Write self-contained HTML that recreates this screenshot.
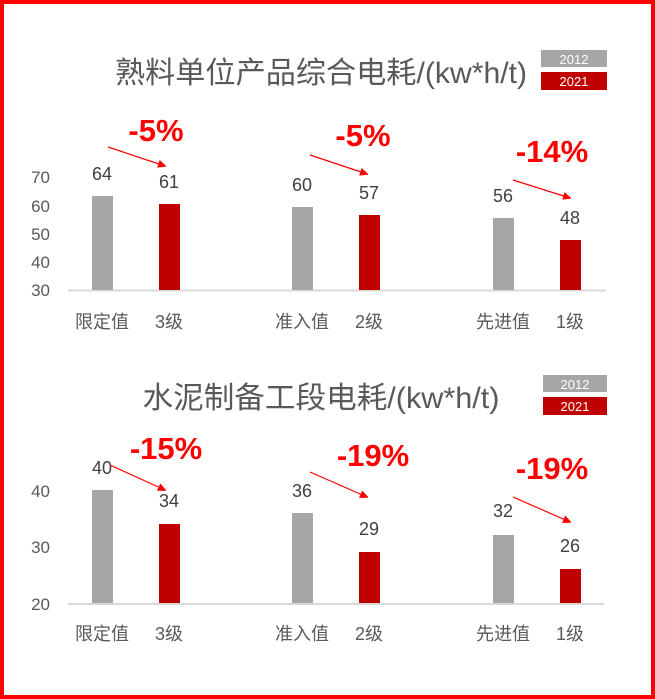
<!DOCTYPE html>
<html><head><meta charset="utf-8"><style>
html,body{margin:0;padding:0;background:#fff}
svg{display:block}
text{font-family:"Liberation Sans","Noto Sans CJK SC",sans-serif}
</style></head><body>
<svg width="655" height="699" viewBox="0 0 655 699">
<defs><marker id="ah" markerWidth="8" markerHeight="8" refX="7" refY="4" orient="auto" markerUnits="userSpaceOnUse"><path d="M0,0 L9,4 L0,8 z" fill="#ff0000"/></marker></defs>
<rect x="2" y="2" width="651" height="695" fill="#fff" stroke="#ff0000" stroke-width="4"/>
<!-- chart 1 -->
<text x="321" y="83" text-anchor="middle" font-size="30" fill="#595959" textLength="412" lengthAdjust="spacingAndGlyphs">熟料单位产品综合电耗/(kw*h/t)</text>
<rect x="541" y="50" width="66" height="17" fill="#a6a6a6"/><text x="574" y="64" text-anchor="middle" font-size="13" fill="#fff">2012</text>
<rect x="541" y="72" width="66" height="18" fill="#c00000"/><text x="574" y="86" text-anchor="middle" font-size="13" fill="#fff">2021</text>
<g font-size="17" fill="#595959" text-anchor="end">
<text x="50" y="183">70</text><text x="50" y="212">60</text><text x="50" y="240">50</text><text x="50" y="268">40</text><text x="50" y="296">30</text></g>
<line x1="68" y1="290.5" x2="606" y2="290.5" stroke="#d9d9d9" stroke-width="2"/>
<rect x="92" y="196" width="21" height="94" fill="#a6a6a6"/>
<rect x="159" y="204" width="21" height="86" fill="#c00000"/>
<rect x="292" y="207" width="21" height="83" fill="#a6a6a6"/>
<rect x="359" y="215" width="21" height="75" fill="#c00000"/>
<rect x="493" y="218" width="21" height="72" fill="#a6a6a6"/>
<rect x="560" y="240" width="21" height="50" fill="#c00000"/>
<g font-size="18" fill="#404040" text-anchor="middle">
<text x="102" y="180">64</text><text x="169" y="188">61</text><text x="302" y="191">60</text><text x="369" y="199">57</text><text x="503" y="202">56</text><text x="570" y="224">48</text></g>
<g font-size="18" fill="#595959" text-anchor="middle">
<text x="102" y="328">限定值</text><text x="169" y="328">3级</text><text x="302" y="328">准入值</text><text x="369" y="328">2级</text><text x="503" y="328">先进值</text><text x="570" y="328">1级</text></g>
<g font-size="31" font-weight="bold" fill="#ff0000" text-anchor="middle">
<text x="156" y="141">-5%</text><text x="363" y="146">-5%</text><text x="552" y="162">-14%</text></g>
<g stroke="#ff0000" stroke-width="1.2" marker-end="url(#ah)">
<line x1="108" y1="147" x2="165" y2="166"/><line x1="310" y1="155" x2="367" y2="174"/><line x1="513" y1="180" x2="570" y2="198"/></g>
<!-- chart 2 -->
<text x="321" y="408" text-anchor="middle" font-size="30" fill="#595959" textLength="357" lengthAdjust="spacingAndGlyphs">水泥制备工段电耗/(kw*h/t)</text>
<rect x="543" y="375" width="64" height="17" fill="#a6a6a6"/><text x="575" y="389" text-anchor="middle" font-size="13" fill="#fff">2012</text>
<rect x="543" y="397" width="64" height="18" fill="#c00000"/><text x="575" y="411" text-anchor="middle" font-size="13" fill="#fff">2021</text>
<g font-size="17" fill="#595959" text-anchor="end">
<text x="50" y="497">40</text><text x="50" y="553">30</text><text x="50" y="610">20</text></g>
<line x1="68" y1="604" x2="604" y2="604" stroke="#d9d9d9" stroke-width="2"/>
<rect x="92" y="490" width="21" height="113" fill="#a6a6a6"/>
<rect x="159" y="524" width="21" height="79" fill="#c00000"/>
<rect x="292" y="513" width="21" height="90" fill="#a6a6a6"/>
<rect x="359" y="552" width="21" height="51" fill="#c00000"/>
<rect x="493" y="535" width="21" height="68" fill="#a6a6a6"/>
<rect x="560" y="569" width="21" height="34" fill="#c00000"/>
<g font-size="18" fill="#404040" text-anchor="middle">
<text x="102" y="474">40</text><text x="169" y="507">34</text><text x="302" y="497">36</text><text x="369" y="535">29</text><text x="503" y="517">32</text><text x="570" y="552">26</text></g>
<g font-size="18" fill="#595959" text-anchor="middle">
<text x="102" y="640">限定值</text><text x="169" y="640">3级</text><text x="302" y="640">准入值</text><text x="369" y="640">2级</text><text x="503" y="640">先进值</text><text x="570" y="640">1级</text></g>
<g font-size="31" font-weight="bold" fill="#ff0000" text-anchor="middle">
<text x="166" y="459">-15%</text><text x="373" y="466">-19%</text><text x="552" y="479">-19%</text></g>
<g stroke="#ff0000" stroke-width="1.2" marker-end="url(#ah)">
<line x1="110" y1="465" x2="165" y2="490"/><line x1="310" y1="472" x2="367" y2="497"/><line x1="513" y1="497" x2="570" y2="522"/></g>
</svg>
</body></html>
